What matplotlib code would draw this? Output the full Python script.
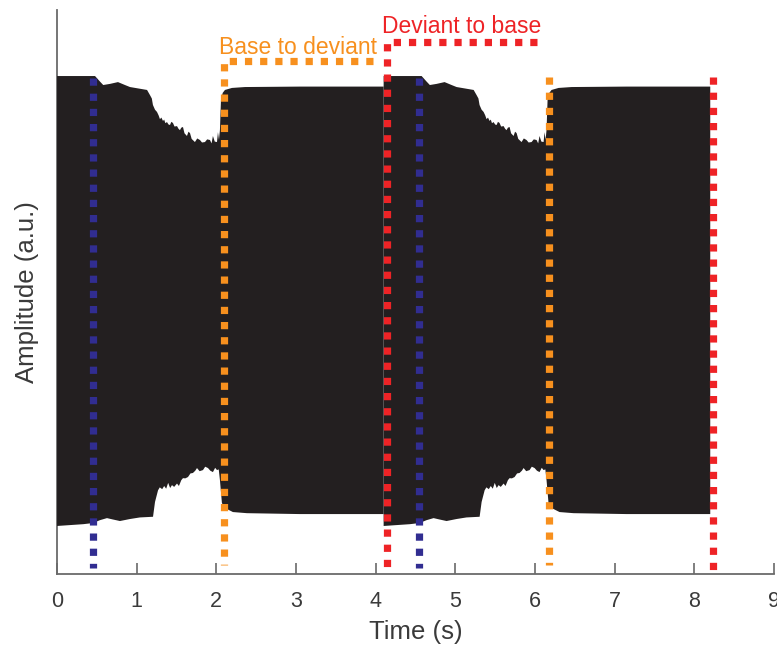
import matplotlib
matplotlib.use('Agg')
import matplotlib.pyplot as plt
import numpy as np

plt.rcParams['font.family'] = ['Liberation Sans', 'DejaVu Sans']

# envelope of one stimulus cycle (time in s, amplitude in a.u.)
top_t = [0.00, 0.477, 0.54, 0.58, 0.665, 0.765, 0.853, 0.916, 1.13, 1.167,
         1.190, 1.204, 1.230, 1.255, 1.275, 1.292, 1.310, 1.330, 1.345, 1.360,
         1.380, 1.400, 1.418, 1.435, 1.455, 1.475, 1.506, 1.525, 1.543, 1.560,
         1.581, 1.600, 1.631, 1.650, 1.669, 1.690, 1.731, 1.760, 1.794, 1.820,
         1.857, 1.885, 1.920, 1.940, 1.957, 1.980, 2.008, 2.020, 2.033, 2.045,
         2.058, 2.080, 2.108, 2.196, 2.36, 3.05, 4.10]
top_v = [1.000, 1.000, 0.975, 0.960, 0.965, 0.973, 0.960, 0.951, 0.938, 0.915,
         0.900, 0.871, 0.850, 0.840, 0.825, 0.808, 0.815, 0.800, 0.806, 0.790,
         0.795, 0.784, 0.782, 0.796, 0.791, 0.775, 0.777, 0.765, 0.759, 0.770,
         0.773, 0.745, 0.733, 0.752, 0.746, 0.720, 0.706, 0.722, 0.715, 0.704,
         0.706, 0.718, 0.715, 0.700, 0.733, 0.708, 0.706, 0.750, 0.716, 0.760,
         0.893, 0.925, 0.938, 0.947, 0.951, 0.953, 0.953]

bot_t = [0.00, 0.33, 0.45, 0.54, 0.627, 0.70, 0.79, 0.916, 1.04, 1.205,
         1.230, 1.268, 1.290, 1.320, 1.345, 1.370, 1.395, 1.420, 1.443, 1.470,
         1.506, 1.530, 1.560, 1.581, 1.610, 1.644, 1.675, 1.706, 1.735, 1.757,
         1.790, 1.832, 1.860, 1.895, 1.925, 1.957, 1.985, 2.008, 2.030, 2.045,
         2.070, 2.108, 2.208, 2.384, 3.05, 4.10]
bot_v = [-1.004, -0.996, -0.991, -0.978, -0.969, -0.975, -0.982, -0.973, -0.966, -0.963,
         -0.897, -0.845, -0.832, -0.840, -0.826, -0.838, -0.812, -0.835, -0.822, -0.830,
         -0.815, -0.826, -0.800, -0.791, -0.792, -0.786, -0.770, -0.768, -0.758, -0.746,
         -0.760, -0.755, -0.740, -0.746, -0.758, -0.764, -0.745, -0.755, -0.752, -0.800,
         -0.902, -0.924, -0.942, -0.947, -0.951, -0.951]

cycle_starts = [0.0, 4.1]

# dotted markers: x position, top, bottom
blue_x = [0.452, 4.55]
blue_top, blue_bot = 0.991, -1.19
orange_x = [2.09, 6.18]
orange_top = [1.067, 0.995]
orange_bot = -1.18
red_x = [4.137, 8.24]
red_top = [1.153, 0.995]
red_bot = -1.21
orange_bar = (2.09, 3.97, 1.067)
red_bar = (4.137, 6.02, 1.153)

BLACK = '#231f20'
BLUE = '#312d91'
ORANGE = '#f7901e'
RED = '#ee2326'
GREY = '#6a6a6a'
TXT = '#3a3a3a'

fig = plt.figure(figsize=(7.77, 6.47), dpi=100)
ax = fig.add_axes([0.0734, 0.1128, 0.9227, 0.8717])

for t0 in cycle_starts:
    xs = np.r_[np.array(top_t) + t0, np.array(bot_t)[::-1] + t0]
    ys = np.r_[top_v, bot_v[::-1]]
    ax.fill(xs, ys, color=BLACK, lw=0, zorder=3)

dot = dict(lw=5.2, linestyle=(0, (1, 1.1)), zorder=4)

for x in blue_x:
    ax.plot([x, x], [blue_top, blue_bot], color=BLUE, **dot)

x0, x1, y = orange_bar
ax.plot([x1, x0, x0], [y, y, orange_bot], color=ORANGE, **dot)
ax.plot([orange_x[1]] * 2, [orange_top[1], orange_bot], color=ORANGE, **dot)

x0, x1, y = red_bar
ax.plot([x1, x0, x0], [y, y, red_bot], color=RED, **dot)
ax.plot([red_x[1]] * 2, [red_top[1], red_bot], color=RED, **dot)

ax.text(2.03, 1.100, 'Base to deviant', color=ORANGE, fontsize=16.5,
        ha='left', va='baseline')
ax.text(4.08, 1.192, 'Deviant to base', color=RED, fontsize=16.5,
        ha='left', va='baseline')

ax.set_xlim(0, 9)
ax.set_ylim(-1.218, 1.294)
ax.set_xticks(range(10))
ax.set_yticks([])
ax.tick_params(axis='x', direction='in', length=8, width=1.2, colors=GREY,
               labelsize=15.5, labelcolor=TXT, pad=12)

for s in ['top', 'right']:
    ax.spines[s].set_visible(False)
for s in ['left', 'bottom']:
    ax.spines[s].set_color(GREY)
    ax.spines[s].set_linewidth(1.3)

ax.set_xlabel('Time (s)', fontsize=18.5, color=TXT, labelpad=6)
ax.set_ylabel('Amplitude (a.u.)', fontsize=18.5, color=TXT, labelpad=13)

fig.savefig('out.png', dpi=100)
